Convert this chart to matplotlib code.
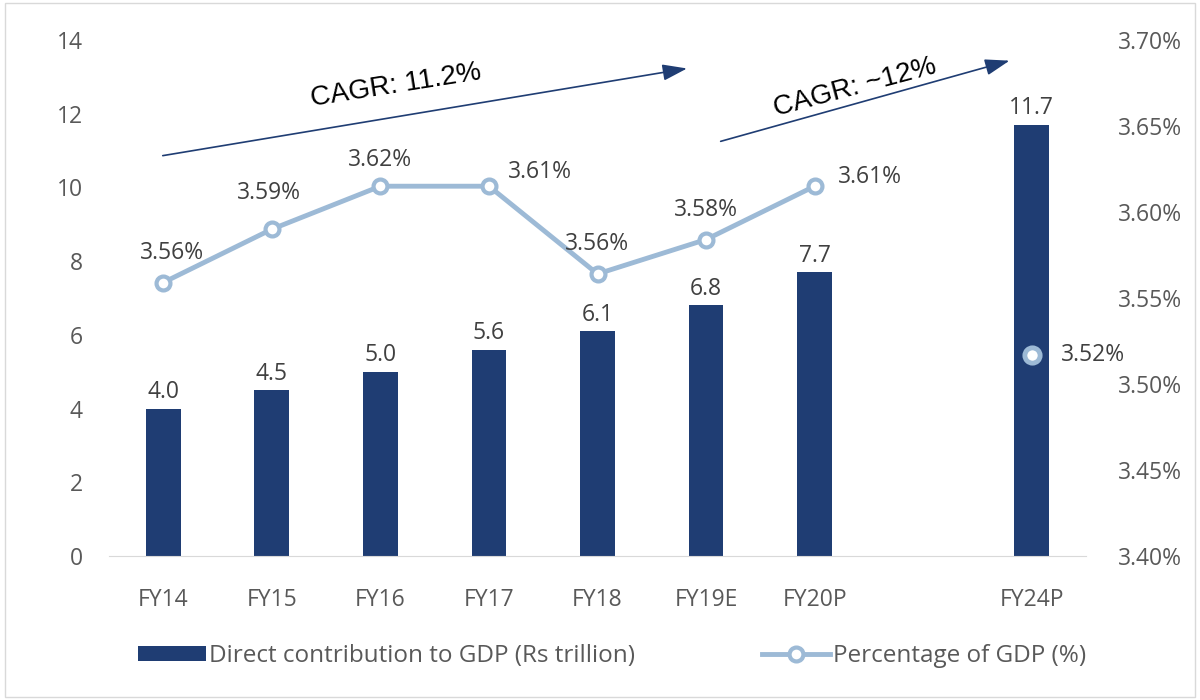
import numpy as np
import matplotlib
matplotlib.use('Agg')
from matplotlib import pyplot as plt
from matplotlib.patches import Rectangle

# data
years = ['FY14', 'FY15', 'FY16', 'FY17', 'FY18', 'FY19E', 'FY20P', '', 'FY24P']
contrib = [4.0, 4.5, 5.0, 5.6, 6.1, 6.8, 7.7, np.nan, 11.7]
contrib_lbl = ['4.0', '4.5', '5.0', '5.6', '6.1', '6.8', '7.7', '', '11.7']
share = [3.559, 3.590, 3.615, 3.615, 3.564, 3.584, 3.615]   # FY14..FY20P
share_lbl = ['3.56%', '3.59%', '3.62%', '3.61%', '3.56%', '3.58%', '3.61%']
share_fy24 = 3.517
share_fy24_lbl = '3.52%'

navy = '#1F3D73'
lightblue = '#9DBAD6'
grey = '#595959'
fnt = 'Open Sans'
fs = 16.5

plt.rcParams['font.family'] = [fnt, 'DejaVu Sans']

fig = plt.figure(figsize=(12, 7), dpi=100)
ax = fig.add_axes([109/1200, 1-556/700, (1086-109)/1200, (556-40)/700])
ax2 = ax.twinx()

x = np.arange(len(years))
bars = ax.bar(x, contrib, width=0.32, color=navy, zorder=2,
              label='Direct contribution to GDP (Rs trillion)')
for xi, v, t in zip(x, contrib, contrib_lbl):
    if t:
        ax.text(xi, v + 0.12, t, ha='center', va='bottom', fontsize=fs, color='#404040')

ax.set_xlim(-0.5, len(years) - 0.5)
ax.set_ylim(0, 14)
ax.set_yticks(np.arange(0, 15, 2))
ax.set_xticks([i for i in x if years[i]])
ax.set_xticklabels([y for y in years if y])
for a in (ax, ax2):
    for s in a.spines.values():
        s.set_visible(False)
    a.tick_params(length=0, labelsize=fs, colors=grey)
ax.spines['bottom'].set_visible(True)
ax.spines['bottom'].set_color('#D9D9D9')
ax.tick_params(axis='x', pad=23)
ax.tick_params(axis='y', pad=19)

ax2.set_ylim(3.40, 3.70)
ax2.set_yticks(np.arange(3.40, 3.701, 0.05))
ax2.set_yticklabels(['%.2f%%' % v for v in np.arange(3.40, 3.701, 0.05)])
ax2.tick_params(axis='y', pad=23)

line, = ax2.plot(x[:7], share, color=lightblue, lw=3.5, marker='o', ms=10,
                 mfc='white', mec=lightblue, mew=3, zorder=3,
                 label='Percentage of GDP (%)')
ax2.plot(x[8], share_fy24, marker='o', ms=11, mfc='white', mec=lightblue,
         mew=3.5, zorder=3)

# label offsets in points (label centre relative to point)
offs = [(6, 21), (-2, 26), (0, 19), (37, 10), (0, 21.5), (0, 21.5), (40, 6.5)]
for xi, v, t, (dx, dy) in zip(x[:7], share, share_lbl, offs):
    ax2.annotate(t, (xi, v), xytext=(dx, dy), textcoords='offset points',
                 ha='center', va='center', fontsize=fs, color='#404040')
ax2.annotate(share_fy24_lbl, (x[8], share_fy24), xytext=(21, 0),
             textcoords='offset points', ha='left', va='center',
             fontsize=fs, color='#404040')

# CAGR arrows
arr = dict(arrowstyle='-|>,head_length=1.5,head_width=0.5', color=navy, lw=1.2)
ax.annotate('', xy=(4.85, 13.24), xytext=(-0.03, 10.85), arrowprops=arr)
ax.annotate('', xy=(7.82, 13.46), xytext=(5.11, 11.23), arrowprops=arr)
ax.text(2.14, 12.75, 'CAGR: 11.2%', rotation=9, ha='center', va='center',
        fontsize=20, family='Liberation Sans', color='black')
ax.text(6.37, 12.7, 'CAGR: ~12%', rotation=15, ha='center', va='center',
        fontsize=20, family='Liberation Sans', color='black')

leg = fig.legend(handles=[bars, line], loc='center', bbox_to_anchor=(612/1200, 1-656/700),
                 ncol=2, frameon=False, fontsize=17.5, handlelength=2.8,
                 handleheight=0.55, columnspacing=5.2, handletextpad=0.15)
for t in leg.get_texts():
    t.set_color(grey)

fig.patches.append(Rectangle((5/1200, 3/700), 1190/1200, 694/700, transform=fig.transFigure,
                             fill=False, edgecolor='#D9D9D9', lw=1))

fig.savefig('out.png', dpi=100)
